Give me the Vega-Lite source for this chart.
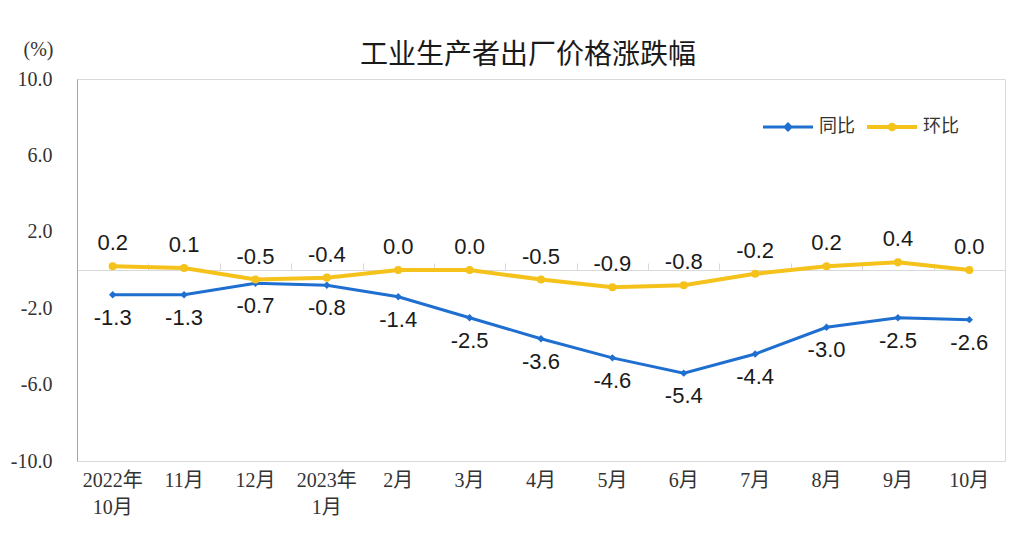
{
  "$schema": "https://vega.github.io/schema/vega-lite/v6.json",
  "width": 928,
  "height": 382,
  "autosize": {"type": "none"},
  "padding": {"left": 77, "top": 79, "right": 13, "bottom": 91},
  "background": "white",
  "title": {"text": "工业生产者出厂价格涨跌幅", "font": "Noto Sans CJK SC", "fontSize": 28, "fontWeight": "normal", "color": "#1a1a1a", "anchor": "middle", "dx": -13, "dy": 43, "offset": 12},
  "data": {"values": [
    {"month": "2022年10月", "同比": -1.3, "环比": 0.2},
    {"month": "11月", "同比": -1.3, "环比": 0.1},
    {"month": "12月", "同比": -0.7, "环比": -0.5},
    {"month": "2023年1月", "同比": -0.8, "环比": -0.4},
    {"month": "2月", "同比": -1.4, "环比": 0.0},
    {"month": "3月", "同比": -2.5, "环比": 0.0},
    {"month": "4月", "同比": -3.6, "环比": -0.5},
    {"month": "5月", "同比": -4.6, "环比": -0.9},
    {"month": "6月", "同比": -5.4, "环比": -0.8},
    {"month": "7月", "同比": -4.4, "环比": -0.2},
    {"month": "8月", "同比": -3.0, "环比": 0.2},
    {"month": "9月", "同比": -2.5, "环比": 0.4},
    {"month": "10月", "同比": -2.6, "环比": 0.0}
  ]},
  "layer": [
    {
      "mark": {"type": "line", "color": "#1F6FD0", "strokeWidth": 3, "point": {"shape": "diamond", "filled": true, "size": 55, "color": "#1F6FD0"}},
      "encoding": {
        "x": {"field": "month", "type": "nominal", "scale": {"domain": ["2022年10月", "11月", "12月", "2023年1月", "2月", "3月", "4月", "5月", "6月", "7月", "8月", "9月", "10月"]},
          "axis": {"orient": "bottom", "title": null, "domain": false, "ticks": false, "labelAngle": 0, "labelPadding": 9, "labelFont": "Liberation Serif, Noto Sans CJK SC", "labelFontSize": 20, "labelColor": "#333333", "labelLineHeight": 27,
            "labelExpr": "length(datum.label) > 4 ? [slice(datum.label,0,5), slice(datum.label,5)] : datum.label"}},
        "y": {"field": "同比", "type": "quantitative", "scale": {"domain": [-10, 10], "nice": false}, "axis": {"title": "(%)", "values": [-10, -6, -2, 2, 6, 10]}}
      }
    },
    {
      "mark": {"type": "line", "color": "#F5C21B", "strokeWidth": 4, "point": {"shape": "circle", "filled": true, "size": 65, "color": "#F5C21B"}},
      "encoding": {
        "x": {"field": "month", "type": "nominal", "scale": {"domain": ["2022年10月", "11月", "12月", "2023年1月", "2月", "3月", "4月", "5月", "6月", "7月", "8月", "9月", "10月"]},
          "axis": {"orient": "bottom", "offset": -191, "title": null, "labels": false, "domain": true, "domainColor": "#d9d9d9", "ticks": true, "tickColor": "#d9d9d9", "tickSize": -7, "tickBand": "extent", "grid": false}},
        "y": {"field": "环比", "type": "quantitative", "scale": {"domain": [-10, 10], "nice": false}, "axis": {"title": "(%)", "values": [-10, -6, -2, 2, 6, 10]}}
      }
    },
    {
      "mark": {"type": "text", "dy": 23, "font": "Liberation Sans", "fontSize": 22, "color": "#1a1a1a"},
      "encoding": {
        "x": {"field": "month", "type": "nominal", "axis": null},
        "y": {"field": "同比", "type": "quantitative", "scale": {"domain": [-10, 10], "nice": false}, "axis": {"title": "(%)", "values": [-10, -6, -2, 2, 6, 10]}},
        "text": {"field": "同比", "type": "quantitative", "format": ".1f"}
      }
    },
    {
      "mark": {"type": "text", "dy": -23, "font": "Liberation Sans", "fontSize": 22, "color": "#1a1a1a"},
      "encoding": {
        "x": {"field": "month", "type": "nominal", "axis": null},
        "y": {"field": "环比", "type": "quantitative", "scale": {"domain": [-10, 10], "nice": false}, "axis": {"title": "(%)", "values": [-10, -6, -2, 2, 6, 10]}},
        "text": {"field": "环比", "type": "quantitative", "format": ".1f"}
      }
    },
    {
      "transform": [{"fold": ["同比", "环比"], "as": ["series", "value"]}],
      "mark": {"type": "point", "filled": true, "opacity": 0, "size": 2500},
      "encoding": {
        "x": {"field": "month", "type": "nominal", "axis": null},
        "y": {"field": "value", "type": "quantitative", "scale": {"domain": [-10, 10], "nice": false}, "axis": {"title": "(%)", "values": [-10, -6, -2, 2, 6, 10]}},
        "color": {"field": "series", "type": "nominal", "scale": {"domain": ["同比", "环比"], "range": ["#1F6FD0", "#F5C21B"]},
          "legend": {"orient": "none", "legendX": 686, "legendY": 23, "direction": "horizontal", "title": null, "symbolOpacity": 1, "symbolSize": 2500, "symbolStrokeWidth": 0, "labelFont": "Noto Sans CJK SC", "labelFontSize": 18, "labelColor": "#333333", "labelOffset": 6, "columnPadding": 12}},
        "shape": {"field": "series", "type": "nominal", "scale": {"domain": ["同比", "环比"], "range": ["M-1,-0.06H1V0.06H-1Z M-0.2,0L0,-0.2L0.2,0L0,0.2Z", "M-1,-0.08H1V0.08H-1Z M-0.17,0A0.17,0.17 0 1,1 0.17,0A0.17,0.17 0 1,1 -0.17,0Z"]},
          "legend": {"orient": "none", "legendX": 686, "legendY": 23, "direction": "horizontal", "title": null, "symbolOpacity": 1, "symbolSize": 2500, "symbolStrokeWidth": 0, "labelFont": "Noto Sans CJK SC", "labelFontSize": 18, "labelColor": "#333333", "labelOffset": 6, "columnPadding": 12}}
      }
    }
  ],
  "resolve": {"axis": {"x": "independent"}},
  "config": {
    "locale": {"number": {"decimal": ".", "thousands": ",", "grouping": [3], "currency": ["$", ""], "minus": "-"}},
    "view": {"stroke": "#d9d9d9", "strokeWidth": 1},
    "axis": {"grid": false},
    "axisY": {"format": ".1f", "grid": false, "ticks": false, "domain": true, "domainColor": "#a6a6a6", "labelPadding": 25, "labelFont": "Liberation Serif", "labelFontSize": 20, "labelColor": "#333333",
      "titleAngle": 0, "titleX": -39, "titleY": -24, "titleAlign": "center", "titleBaseline": "alphabetic", "titleFont": "Liberation Serif", "titleFontSize": 20, "titleFontWeight": "normal", "titleColor": "#333333"}
  }
}
